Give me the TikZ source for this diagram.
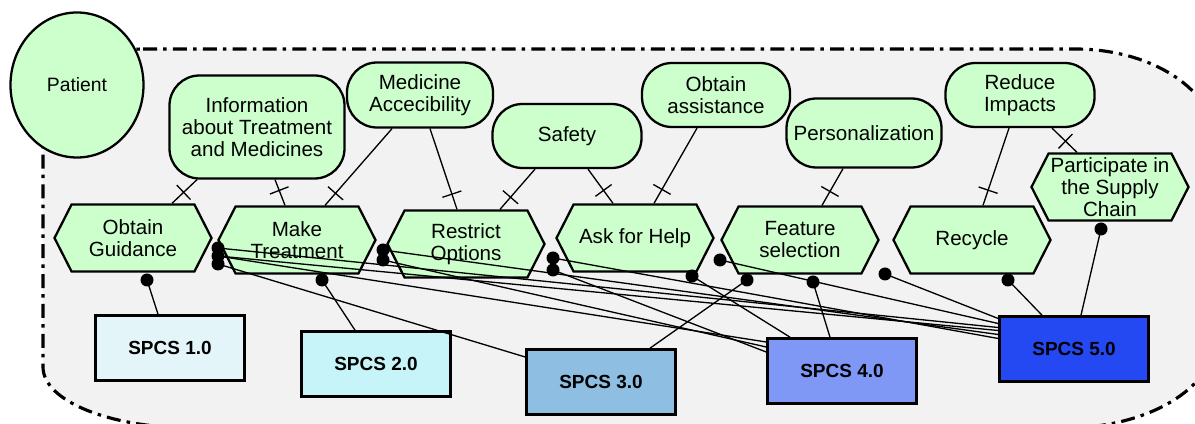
\documentclass[tikz,border=0pt]{standalone}
\usepackage{fontspec}
\setmainfont{Liberation Sans}
\usetikzlibrary{shapes.symbols,shapes.geometric,decorations.markings}
\definecolor{goalgreen}{HTML}{CCFFCC}
\definecolor{bggray}{HTML}{F2F2F2}
\definecolor{sone}{HTML}{E4F5FA}
\definecolor{stwo}{HTML}{C6F4F8}
\definecolor{sthree}{HTML}{8EBEE2}
\definecolor{sfour}{HTML}{7F97F5}
\definecolor{sfive}{HTML}{2448F2}
\newcommand\goalfont{\fontsize{11.7}{12.5}\selectfont}
\newcommand\resfont{\fontsize{10.8}{12}\selectfont\bfseries}
\begin{document}
\begin{tikzpicture}[x=0.2mm,y=-0.2mm,
  goal/.style={draw, line width=1.3pt, fill=goalgreen, rounded corners=6mm, align=center, font=\goalfont, inner sep=2pt},
  task/.style={shape=signal, signal to=west and east, signal pointer angle=126, draw, line width=1.3pt, fill=goalgreen, minimum width=31.4mm, minimum height=13.4mm, inner sep=1pt, align=center, font=\goalfont},
  res/.style={draw, line width=1.5pt, minimum width=29.8mm, minimum height=13mm, font=\resfont, inner sep=0pt},
  tick/.style={line width=0.75pt, postaction={decorate}, decoration={markings, mark=at position -3.2mm with {\draw[line width=0.75pt] (0,-2mm) -- (0,2mm);}}},
  link/.style={line width=0.75pt},
  boundary/.style={fill=bggray, line width=1.8pt, dash pattern=on 8pt off 3.5pt on 2pt off 3.5pt}
]
\useasboundingbox (0,0) rectangle (1195,424);
\clip (0,0) rectangle (1195,424);

% actor boundary
\draw[boundary] (143,49) -- (1075,49)
  .. controls (1152,49) and (1215,90) .. (1215,141)
  -- (1215,338)
  .. controls (1215,388) and (1148,428) .. (1065,428)
  -- (193,428)
  .. controls (110,428) and (43,401) .. (43,367)
  -- (43,150)
  .. controls (43,95) and (88,49) .. (143,49) -- cycle;

% actor
\node[shape=ellipse, draw, line width=1.3pt, fill=goalgreen, minimum width=26.6mm, minimum height=29mm, font=\fontsize{11}{13}\selectfont] (patient) at (77,85) {Patient};

% goals
\node[goal, minimum width=35mm, minimum height=20.6mm] (info) at (257,127) {Information\\about Treatment\\and Medicines};
\node[goal, minimum width=29.2mm, minimum height=13mm] (medacc) at (420,95) {Medicine\\Accecibility};
\node[goal, minimum width=29.8mm, minimum height=12.8mm] (safety) at (567,136) {Safety};
\node[goal, minimum width=29.6mm, minimum height=12.8mm] (assist) at (716,95) {Obtain\\assistance};
\node[goal, minimum width=31mm, minimum height=13.8mm] (pers) at (864,133) {Personalization};
\node[goal, minimum width=29.8mm, minimum height=12.8mm] (reduce) at (1020,95) {Reduce\\Impacts};

% tasks
\node[task] (og) at (133,238) {Obtain\\Guidance};
\node[task] (mt) at (297,240) {Make\\Treatment};
\node[task] (ro) at (466,244) {Restrict\\Options};
\node[task] (ah) at (635,238) {Ask for Help};
\node[task] (fs) at (800,240) {Feature\\selection};
\node[task] (rc) at (972,240) {Recycle};
\node[task] (ps) at (1110,187) {Participate in\\the Supply\\Chain};

% resources
\node[res, fill=sone] (s1) at (170,348) {SPCS 1.0};
\node[res, fill=stwo] (s2) at (376,364) {SPCS 2.0};
\node[res, fill=sthree] (s3) at (601,382) {SPCS 3.0};
\node[res, fill=sfour] (s4) at (842,371) {SPCS 4.0};
\node[res, fill=sfive] (s5) at (1074,349) {SPCS 5.0};

% goal -> task links
\draw[tick] ([xshift=-12mm]info.south) -- ([xshift=7.8mm]og.north);
\draw[tick] ([xshift=3.6mm]info.south) -- ([xshift=-2.4mm]mt.north);
\draw[tick] ([xshift=-5.6mm]medacc.south) -- ([xshift=5.6mm]mt.north);
\draw[tick] ([xshift=2mm]medacc.south) -- ([xshift=-1.8mm]ro.north);
\draw[tick] ([xshift=-6.4mm]safety.south) -- ([xshift=6.8mm]ro.north);
\draw[tick] ([xshift=4.2mm]safety.south) -- ([xshift=-4.4mm]ah.north);
\draw[tick] ([xshift=-3.8mm]assist.south) -- ([xshift=3.8mm]ah.north);
\draw[tick] ([xshift=-4.2mm]pers.south) -- ([xshift=4.4mm]fs.north);
\draw[tick] ([xshift=-2.2mm]reduce.south) -- ([xshift=2.2mm]rc.north);
\draw[tick] ([xshift=6.4mm]reduce.south) -- ([xshift=-6.6mm]ps.north);

% resource dots
\coordinate (dOG) at (147,280);
\coordinate (dMT) at (322,280);
\coordinate (dMTa) at (218,248);
\coordinate (dMTb) at (218,256);
\coordinate (dMTc) at (218,264);
\coordinate (dROa) at (383,250);
\coordinate (dROb) at (383,260);
\coordinate (dAHa) at (553,258);
\coordinate (dAHb) at (553,270);
\coordinate (dAHc) at (692,276);
\coordinate (dFSa) at (720,260);
\coordinate (dFSb) at (747,280);
\coordinate (dFSc) at (813,282);
\coordinate (dRCa) at (885,274);
\coordinate (dRCb) at (1008,280);
\coordinate (dPS) at (1101,229);

\draw[link] (dOG) -- ([xshift=-2.4mm]s1.north);
\draw[link] (dMT) -- ([xshift=-4.2mm]s2.north);
\draw[link] (dMTa) -- ([yshift=4.3mm]s5.west);
\draw[link] (dMTb) -- ([yshift=3.7mm]s5.west);
\draw[link] (dMTb) -- ([yshift=5.8mm]s4.west);
\draw[link] (dMTc) -- ([yshift=5mm]s3.west);
\draw[link] (dROa) -- ([yshift=2.9mm]s5.west);
\draw[link] (dROb) -- ([yshift=4.8mm]s4.west);
\draw[link] (dAHa) -- ([yshift=2.1mm]s5.west);
\draw[link] (dAHb) -- ([yshift=3.8mm]s4.west);
\draw[link] (dAHc) -- ([xshift=-10.4mm]s4.north);
\draw[link] (dFSa) -- ([yshift=5.1mm]s5.west);
\draw[link] (dFSb) -- ([xshift=9.8mm]s3.north);
\draw[link] (dFSc) -- ([xshift=-2.4mm]s4.north);
\draw[link] (dRCa) -- ([yshift=6.1mm]s5.west);
\draw[link] (dRCb) -- ([xshift=-6.4mm]s5.north);
\draw[link] (dPS) -- ([xshift=1.4mm]s5.north);

\foreach \d in {dOG,dMT,dMTa,dMTb,dMTc,dROa,dROb,dAHa,dAHb,dAHc,dFSa,dFSb,dFSc,dRCa,dRCb,dPS}
  \fill (\d) circle (1.3mm);
\end{tikzpicture}
\end{document}
